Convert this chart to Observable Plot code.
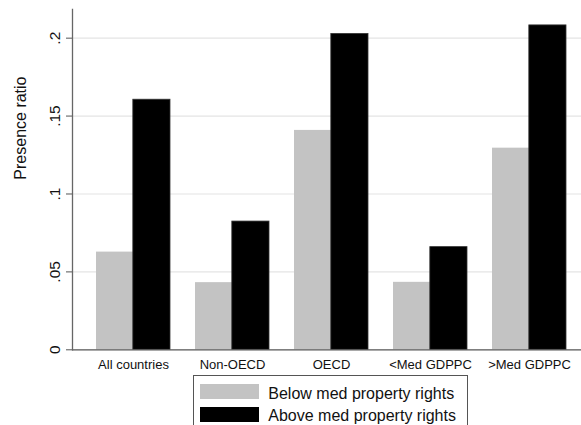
<!DOCTYPE html>
<html><head><meta charset="utf-8">
<script src="https://cdn.jsdelivr.net/npm/d3@7"></script>
<script src="https://cdn.jsdelivr.net/npm/@observablehq/plot@0.6"></script>
<style>
html,body{margin:0;padding:0;background:#fff;overflow:hidden}
#wrap{position:relative;width:581px;height:425px;overflow:hidden;font-family:"Liberation Sans",Arial,sans-serif;background:#fff}
#wrap svg{display:block}
.lg-box{position:absolute;left:192.7px;top:375px;width:275.6px;height:70px;border:1px solid #555;box-sizing:border-box;background:#fff}
.lg-sw{position:absolute;left:200px;width:59px;height:15px}
.lg-tx{position:absolute;left:268.3px;font-size:16px;line-height:18px;color:#111;white-space:nowrap}
</style></head><body><div id="wrap"></div>
<script>
const categories = ["All countries", "Non-OECD", "OECD", "<Med GDPPC", ">Med GDPPC"];
const seriesNames = ["Below med property rights", "Above med property rights"];
const belowValues = [0.0627, 0.0431, 0.1408, 0.0433, 0.1294];
const aboveValues = [0.1605, 0.0823, 0.2027, 0.0659, 0.2082];
const yTicks = [0, 0.05, 0.1, 0.15, 0.2];
const yTickLabels = ["0", ".05", ".1", ".15", ".2"];
const seriesColors = ["#c3c3c3", "#000000"];
const yTitle = "Presence ratio";

const belowRows = categories.map((c, i) => ({category: c, series: seriesNames[0], value: belowValues[i]}));
const aboveRows = categories.map((c, i) => ({category: c, series: seriesNames[1], value: aboveValues[i]}));

const xRange = [72, 589.4], padIn = 0.257, padOut = 0.239;
const step = (xRange[1] - xRange[0]) / (categories.length - padIn + 2 * padOut);
const half = step * (1 - padIn) / 2;

const plot = Plot.plot({
  width: 581, height: 372,
  marginTop: 9, marginBottom: 22.7, marginLeft: 72, marginRight: 0,
  style: {fontFamily: "Liberation Sans, Arial, sans-serif", background: "transparent", color: "#111"},
  x: {domain: categories, range: xRange, paddingInner: padIn, paddingOuter: padOut, axis: null, label: null},
  y: {domain: [0, 0.2184], axis: null, label: null},
  marks: [
    Plot.ruleY(yTicks.slice(1), {stroke: "#e4e4e4", strokeWidth: 1.2}),
    Plot.barY(belowRows, {x: "category", y: "value", fill: seriesColors[0], insetRight: half}),
    Plot.barY(aboveRows, {x: "category", y: "value", fill: seriesColors[1], stroke: "#333", strokeWidth: 0.8, insetLeft: half}),
    Plot.ruleY([0], {stroke: "#555", strokeWidth: 1.3}),
    Plot.frame({anchor: "left", stroke: "#666", strokeWidth: 1.3}),
    Plot.axisY(yTicks, {label: null, tickFormat: d => yTickLabels[yTicks.indexOf(d)], tickSize: 6, tickPadding: 7, tickRotate: -90, textAnchor: "middle", lineAnchor: "bottom", fontSize: 15.5, stroke: "#555", fill: "#111"}),
    Plot.axisX({label: null, tickSize: 0, tickPadding: 9.5, fontSize: 13, fill: "#111"}),
    Plot.text([yTitle], {frameAnchor: "left", dx: -52, rotate: -90, fontSize: 16, fill: "#111"})
  ]
});

const wrap = document.getElementById("wrap");
wrap.appendChild(plot);

const box = document.createElement("div");
box.className = "lg-box";
wrap.appendChild(box);
const swTops = [384.3, 406.7];
const txTops = [385, 407.2];
seriesNames.forEach((name, i) => {
  const sw = document.createElement("div");
  sw.className = "lg-sw";
  sw.style.top = swTops[i] + "px";
  sw.style.background = seriesColors[i];
  wrap.appendChild(sw);
  const tx = document.createElement("div");
  tx.className = "lg-tx";
  tx.style.top = txTops[i] + "px";
  tx.textContent = name;
  wrap.appendChild(tx);
});
</script>
</body></html>
